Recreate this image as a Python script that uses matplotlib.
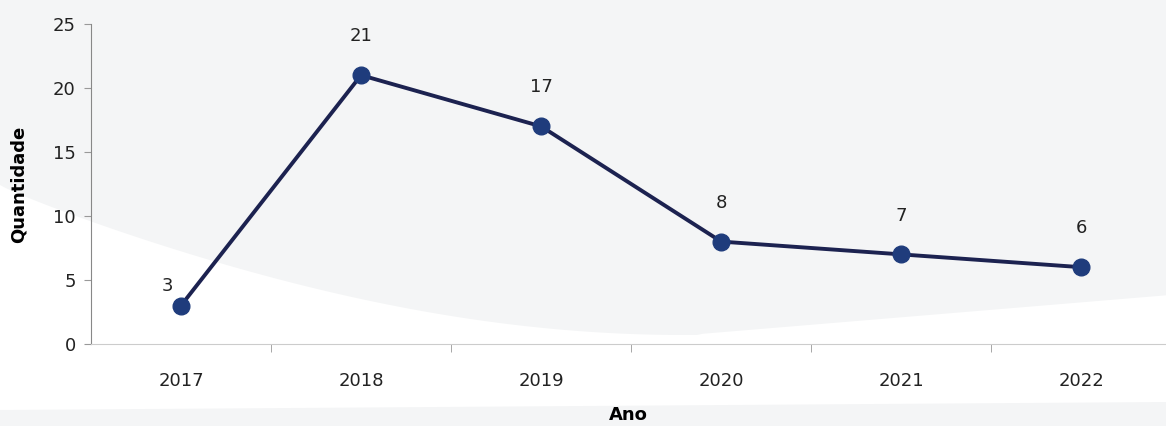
import matplotlib.pyplot as plt
from matplotlib.patches import Polygon
import numpy as np

anos = ['2017', '2018', '2019', '2020', '2021', '2022']
quantidade = [3, 21, 17, 8, 7, 6]
y_ticks = [0, 5, 10, 15, 20, 25]

plt.rcParams['font.family'] = ['DejaVu Sans']

fig = plt.figure(figsize=(11.66, 4.26), dpi=100)
fig.patch.set_facecolor('#ffffff')

# background swoosh (figure coords)
bg = fig.add_axes([0, 0, 1, 1], zorder=0)
bg.set_xlim(0, 1166)
bg.set_ylim(426, 0)
bg.axis('off')
xs = np.linspace(0, 1166, 200)
curve = 185 + 150 * np.sin(np.clip(xs / 1300, 0, 1) * np.pi * 0.95) ** 0.9
curve = np.where(xs > 700, 334 - (xs - 700) * 0.083, curve)
top = np.column_stack([np.concatenate([xs, [1166, 0]]),
                       np.concatenate([curve, [0, 0]])])
bg.add_patch(Polygon(top, closed=True, facecolor='#f4f5f6', edgecolor='none'))
bg.add_patch(Polygon([[0, 410], [1166, 402], [1166, 426], [0, 426]],
                     closed=True, facecolor='#f4f5f6', edgecolor='none'))

ax = fig.add_axes([0.078, 0.1925, 0.922, 0.7512], zorder=1)
ax.patch.set_alpha(0)
x = np.arange(len(anos))
ax.plot(x, quantidade, color='#1c2250', lw=2.8, marker='o', ms=12,
        markerfacecolor='#1f3c7c', markeredgecolor='#1f3c7c', zorder=3)

for i, v in enumerate(quantidade):
    if i == 0:
        ax.annotate(str(v), (i, v), xytext=(-10, 14), textcoords='offset points',
                    ha='center', va='center', fontsize=13, color='#222222')
    else:
        ax.annotate(str(v), (i, v), xytext=(0, 28), textcoords='offset points',
                    ha='center', va='center', fontsize=13, color='#222222')

ax.set_xlim(-0.5, 5.47)
ax.set_ylim(0, 25)
ax.set_yticks(y_ticks)
ax.set_xticks(x)
ax.set_xticklabels(anos)
ax.set_xticks(np.arange(0.5, 5.5, 1), minor=True)
ax.tick_params(axis='x', which='major', length=0, pad=20, labelsize=13, colors='#222222')
ax.tick_params(axis='x', which='minor', length=6, color='#999999')
ax.tick_params(axis='y', length=5, color='#999999', labelsize=13, labelcolor='#222222', pad=6)

for s in ['top', 'right']:
    ax.spines[s].set_visible(False)
ax.spines['left'].set_color('#888888')
ax.spines['bottom'].set_color('#cccccc')

ax.set_ylabel('Quantidade', fontsize=13, fontweight='bold', labelpad=18)
ax.set_xlabel('Ano', fontsize=13, fontweight='bold', labelpad=12)

plt.savefig('out.png', dpi=100)
